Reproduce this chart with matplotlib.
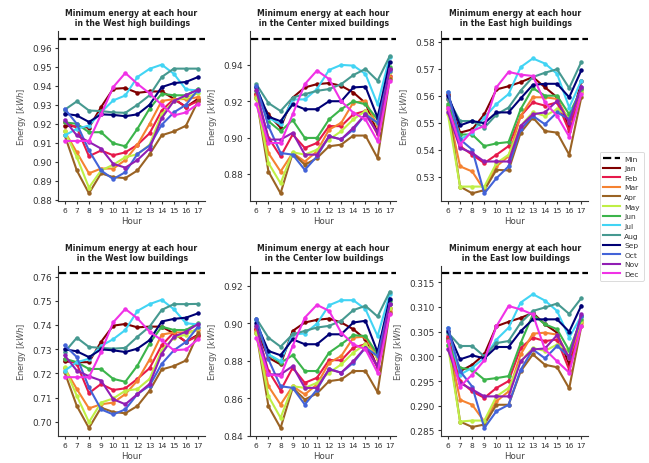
import matplotlib
matplotlib.use("Agg")
import matplotlib.pyplot as plt
from matplotlib.lines import Line2D
from matplotlib.ticker import MultipleLocator, FormatStrFormatter

hours = list(range(6, 18))
months = ["Jan", "Feb", "Mar", "Apr", "May", "Jun",
          "Jul", "Aug", "Sep", "Oct", "Nov", "Dec"]
colors = ["#800000", "#e6194b", "#f58231", "#9a6324", "#bfef45", "#3cb44b",
          "#42d4f4", "#469990", "#000075", "#4363d8", "#911eb4", "#f032e6"]

titles = ["Minimum energy at each hour\n in the West high buildings",
          "Minimum energy at each hour\n in the Center mixed buildings",
          "Minimum energy at each hour\n in the East high buildings",
          "Minimum energy at each hour\n in the West low buildings",
          "Minimum energy at each hour\n in the Center low buildings",
          "Minimum energy at each hour\n in the East low buildings"]

# valor minimo de referencia (linea punteada)
min_values = [0.9647, 0.9544, 0.5811, 0.7613, 0.9266, 0.3168]
tick_steps = [0.01, 0.02, 0.01, 0.01, 0.02, 0.005]
tick_formats = ["%.2f", "%.2f", "%.2f", "%.2f", "%.2f", "%.3f"]

# una fila por mes (Jan..Dec), una columna por hora (6..17)
west_high = [
    [0.9190, 0.9186, 0.9180, 0.9288, 0.9384, 0.9388, 0.9363, 0.9370, 0.9370, 0.9332, 0.9288, 0.9332],
    [0.9210, 0.9180, 0.9030, 0.9060, 0.9035, 0.9050, 0.9090, 0.9150, 0.9270, 0.9330, 0.9290, 0.9320],
    [0.9160, 0.9050, 0.8940, 0.8965, 0.8965, 0.9010, 0.9090, 0.9200, 0.9320, 0.9330, 0.9330, 0.9340],
    [0.9140, 0.8955, 0.8835, 0.8940, 0.8920, 0.8915, 0.8955, 0.9040, 0.9140, 0.9160, 0.9190, 0.9320],
    [0.9160, 0.9025, 0.8865, 0.8955, 0.8985, 0.9025, 0.9040, 0.9090, 0.9250, 0.9320, 0.9340, 0.9360],
    [0.9208, 0.9200, 0.9156, 0.9156, 0.9098, 0.9082, 0.9174, 0.9280, 0.9358, 0.9350, 0.9350, 0.9384],
    [0.9139, 0.9174, 0.9191, 0.9261, 0.9323, 0.9349, 0.9446, 0.9489, 0.9511, 0.9463, 0.9381, 0.9375],
    [0.9274, 0.9318, 0.9270, 0.9267, 0.9260, 0.9258, 0.9300, 0.9350, 0.9446, 0.9490, 0.9490, 0.9490],
    [0.9253, 0.9244, 0.9210, 0.9250, 0.9247, 0.9240, 0.9250, 0.9300, 0.9393, 0.9414, 0.9420, 0.9446],
    [0.9279, 0.9200, 0.9060, 0.8955, 0.8910, 0.8946, 0.9042, 0.9086, 0.9195, 0.9260, 0.9300, 0.9380],
    [0.9220, 0.9139, 0.9105, 0.9070, 0.8990, 0.8970, 0.9010, 0.9070, 0.9230, 0.9320, 0.9350, 0.9380],
    [0.9110, 0.9110, 0.9110, 0.9250, 0.9393, 0.9467, 0.9410, 0.9360, 0.9300, 0.9244, 0.9260, 0.9305],
]

center_mixed = [
    [0.9240, 0.9128, 0.9054, 0.9220, 0.9276, 0.9294, 0.9300, 0.9285, 0.9248, 0.9190, 0.9026, 0.9378],
    [0.9240, 0.9000, 0.8896, 0.9017, 0.8943, 0.8970, 0.9063, 0.9063, 0.9128, 0.9146, 0.9017, 0.9340],
    [0.9230, 0.8915, 0.8813, 0.8915, 0.8868, 0.8924, 0.9044, 0.9081, 0.9193, 0.9200, 0.9063, 0.9331],
    [0.9220, 0.8813, 0.8693, 0.8915, 0.8850, 0.8887, 0.8952, 0.8961, 0.9011, 0.9011, 0.8887, 0.9322],
    [0.9220, 0.8860, 0.8748, 0.8919, 0.8906, 0.8933, 0.8989, 0.9035, 0.9100, 0.9146, 0.9072, 0.9360],
    [0.9257, 0.9090, 0.9035, 0.9096, 0.8998, 0.8998, 0.9100, 0.9156, 0.9200, 0.9183, 0.9100, 0.9387],
    [0.9280, 0.9110, 0.9072, 0.9210, 0.9210, 0.9267, 0.9372, 0.9400, 0.9396, 0.9350, 0.9183, 0.9443],
    [0.9294, 0.9190, 0.9146, 0.9220, 0.9239, 0.9257, 0.9267, 0.9294, 0.9344, 0.9378, 0.9313, 0.9448],
    [0.9276, 0.9115, 0.9090, 0.9183, 0.9156, 0.9156, 0.9200, 0.9200, 0.9276, 0.9280, 0.9110, 0.9415],
    [0.9285, 0.9063, 0.8915, 0.8906, 0.8822, 0.8896, 0.9007, 0.8990, 0.9044, 0.9128, 0.9081, 0.9369],
    [0.9260, 0.8989, 0.8989, 0.9026, 0.8906, 0.8906, 0.9007, 0.8990, 0.9054, 0.9128, 0.9026, 0.9378],
    [0.9183, 0.8970, 0.8970, 0.9128, 0.9294, 0.9369, 0.9322, 0.9200, 0.9137, 0.9100, 0.8980, 0.9313],
]

east_high = [
    [0.5606, 0.5463, 0.5475, 0.5531, 0.5623, 0.5635, 0.5650, 0.5669, 0.5631, 0.5594, 0.5481, 0.5653],
    [0.5588, 0.5413, 0.5381, 0.5350, 0.5381, 0.5413, 0.5525, 0.5575, 0.5563, 0.5575, 0.5469, 0.5625],
    [0.5550, 0.5338, 0.5319, 0.5250, 0.5338, 0.5375, 0.5525, 0.5594, 0.5594, 0.5588, 0.5506, 0.5615],
    [0.5563, 0.5263, 0.5238, 0.5250, 0.5325, 0.5323, 0.5463, 0.5519, 0.5469, 0.5463, 0.5381, 0.5594],
    [0.5531, 0.5263, 0.5263, 0.5263, 0.5350, 0.5381, 0.5488, 0.5538, 0.5525, 0.5550, 0.5525, 0.5619],
    [0.5569, 0.5456, 0.5456, 0.5413, 0.5423, 0.5428, 0.5550, 0.5628, 0.5600, 0.5600, 0.5531, 0.5625],
    [0.5613, 0.5438, 0.5463, 0.5519, 0.5569, 0.5606, 0.5706, 0.5738, 0.5719, 0.5681, 0.5556, 0.5656],
    [0.5588, 0.5506, 0.5506, 0.5481, 0.5530, 0.5556, 0.5619, 0.5669, 0.5685, 0.5698, 0.5628, 0.5725],
    [0.5600, 0.5490, 0.5506, 0.5498, 0.5538, 0.5538, 0.5590, 0.5640, 0.5644, 0.5644, 0.5594, 0.5694],
    [0.5613, 0.5438, 0.5400, 0.5238, 0.5294, 0.5338, 0.5475, 0.5525, 0.5494, 0.5538, 0.5513, 0.5631],
    [0.5538, 0.5406, 0.5388, 0.5356, 0.5356, 0.5356, 0.5488, 0.5531, 0.5538, 0.5581, 0.5500, 0.5631],
    [0.5556, 0.5419, 0.5469, 0.5488, 0.5631, 0.5688, 0.5678, 0.5673, 0.5575, 0.5525, 0.5448, 0.5606],
]

west_low = [
    [0.7249, 0.7246, 0.7246, 0.7330, 0.7397, 0.7404, 0.7390, 0.7393, 0.7393, 0.7365, 0.7330, 0.7360],
    [0.7260, 0.7239, 0.7118, 0.7156, 0.7131, 0.7138, 0.7177, 0.7221, 0.7316, 0.7369, 0.7330, 0.7355],
    [0.7221, 0.7135, 0.7055, 0.7072, 0.7079, 0.7114, 0.7170, 0.7257, 0.7360, 0.7369, 0.7369, 0.7379],
    [0.7204, 0.7065, 0.6974, 0.7058, 0.7040, 0.7035, 0.7065, 0.7128, 0.7216, 0.7230, 0.7253, 0.7365],
    [0.7225, 0.7107, 0.6998, 0.7079, 0.7096, 0.7128, 0.7135, 0.7177, 0.7295, 0.7347, 0.7360, 0.7386],
    [0.7260, 0.7246, 0.7218, 0.7218, 0.7177, 0.7165, 0.7232, 0.7323, 0.7393, 0.7379, 0.7379, 0.7407],
    [0.7211, 0.7246, 0.7260, 0.7313, 0.7341, 0.7379, 0.7458, 0.7486, 0.7504, 0.7465, 0.7407, 0.7402],
    [0.7288, 0.7347, 0.7309, 0.7305, 0.7302, 0.7305, 0.7351, 0.7393, 0.7462, 0.7486, 0.7486, 0.7487],
    [0.7299, 0.7291, 0.7267, 0.7299, 0.7295, 0.7288, 0.7302, 0.7337, 0.7414, 0.7425, 0.7430, 0.7448],
    [0.7316, 0.7267, 0.7142, 0.7051, 0.7030, 0.7051, 0.7114, 0.7149, 0.7239, 0.7295, 0.7330, 0.7393],
    [0.7274, 0.7211, 0.7188, 0.7170, 0.7093, 0.7072, 0.7114, 0.7156, 0.7281, 0.7351, 0.7372, 0.7404],
    [0.7184, 0.7184, 0.7184, 0.7288, 0.7411, 0.7466, 0.7427, 0.7372, 0.7337, 0.7295, 0.7299, 0.7341],
]

center_low = [
    [0.8968, 0.8816, 0.8780, 0.8959, 0.9004, 0.9018, 0.9025, 0.9004, 0.8968, 0.8914, 0.8763, 0.9102],
    [0.8968, 0.8745, 0.8641, 0.8763, 0.8682, 0.8709, 0.8804, 0.8802, 0.8870, 0.8888, 0.8763, 0.9079],
    [0.8959, 0.8664, 0.8566, 0.8664, 0.8620, 0.8673, 0.8789, 0.8825, 0.8923, 0.8929, 0.8807, 0.9066],
    [0.8950, 0.8557, 0.8441, 0.8655, 0.8593, 0.8625, 0.8691, 0.8700, 0.8745, 0.8745, 0.8632, 0.9057],
    [0.8950, 0.8611, 0.8495, 0.8664, 0.8655, 0.8682, 0.8736, 0.8780, 0.8843, 0.8888, 0.8816, 0.9084],
    [0.8986, 0.8834, 0.8789, 0.8829, 0.8745, 0.8745, 0.8843, 0.8888, 0.8936, 0.8932, 0.8834, 0.9120],
    [0.9015, 0.8834, 0.8798, 0.8941, 0.8945, 0.8998, 0.9096, 0.9123, 0.9123, 0.9075, 0.8932, 0.9155],
    [0.9025, 0.8923, 0.8875, 0.8941, 0.8959, 0.8977, 0.8986, 0.9013, 0.9070, 0.9093, 0.9036, 0.9168],
    [0.9000, 0.8852, 0.8829, 0.8914, 0.8888, 0.8888, 0.8941, 0.8941, 0.9004, 0.9013, 0.8846, 0.9132],
    [0.9025, 0.8807, 0.8664, 0.8655, 0.8566, 0.8646, 0.8757, 0.8736, 0.8789, 0.8870, 0.8825, 0.9102],
    [0.8986, 0.8727, 0.8727, 0.8771, 0.8655, 0.8655, 0.8754, 0.8736, 0.8798, 0.8870, 0.8771, 0.9102],
    [0.8923, 0.8727, 0.8718, 0.8879, 0.9030, 0.9098, 0.9066, 0.8950, 0.8888, 0.8861, 0.8736, 0.9048],
]

east_low = [
    [0.3038, 0.2970, 0.2983, 0.3004, 0.3061, 0.3070, 0.3078, 0.3088, 0.3065, 0.3048, 0.2983, 0.3082],
    [0.3041, 0.2950, 0.2929, 0.2916, 0.2936, 0.2950, 0.3017, 0.3038, 0.3031, 0.3034, 0.2973, 0.3071],
    [0.3031, 0.2912, 0.2902, 0.2868, 0.2909, 0.2929, 0.3004, 0.3046, 0.3048, 0.3044, 0.2997, 0.3068],
    [0.3034, 0.2868, 0.2857, 0.2862, 0.2902, 0.2902, 0.2970, 0.3004, 0.2983, 0.2978, 0.2935, 0.3061],
    [0.3021, 0.2868, 0.2870, 0.2870, 0.2919, 0.2936, 0.2990, 0.3017, 0.3011, 0.3024, 0.3011, 0.3071],
    [0.3024, 0.2977, 0.2973, 0.2953, 0.2956, 0.2960, 0.3027, 0.3085, 0.3065, 0.3055, 0.3012, 0.3075],
    [0.3058, 0.2963, 0.2977, 0.2997, 0.3034, 0.3058, 0.3109, 0.3126, 0.3113, 0.3092, 0.3038, 0.3082],
    [0.3048, 0.3021, 0.3021, 0.3000, 0.3027, 0.3031, 0.3068, 0.3092, 0.3099, 0.3107, 0.3086, 0.3118],
    [0.3051, 0.2994, 0.3002, 0.2996, 0.3019, 0.3019, 0.3051, 0.3075, 0.3075, 0.3075, 0.3050, 0.3103],
    [0.3058, 0.2970, 0.2939, 0.2855, 0.2889, 0.2902, 0.2973, 0.3014, 0.2996, 0.3021, 0.3000, 0.3082],
    [0.3014, 0.2946, 0.2933, 0.2919, 0.2919, 0.2919, 0.2990, 0.3014, 0.3016, 0.3043, 0.2997, 0.3085],
    [0.3031, 0.2939, 0.2963, 0.2992, 0.3061, 0.3102, 0.3095, 0.3085, 0.3014, 0.2990, 0.2967, 0.3061],
]

panels = [west_high, center_mixed, east_high, west_low, center_low, east_low]

fig = plt.figure(figsize=(6.49, 4.64), dpi=100)

for i in range(6):
    ax = plt.subplot(2, 3, i + 1)
    # linea del minimo
    ax.axhline(min_values[i], color="black", linestyle="--", linewidth=1.6)
    for m in range(12):
        ax.plot(hours, panels[i][m], color=colors[m], linewidth=1.5,
                marker="o", markersize=2.2)

    ax.set_title(titles[i], fontsize=5.6, fontweight="bold", color="#222222", pad=4)
    ax.set_xlabel("Hour", fontsize=6.2, color="#444444", labelpad=2)
    ax.set_ylabel("Energy [$kWh$]", fontsize=6, color="#555555", labelpad=3)
    ax.set_xticks(hours)
    ax.yaxis.set_major_locator(MultipleLocator(tick_steps[i]))
    ax.yaxis.set_major_formatter(FormatStrFormatter(tick_formats[i]))
    ax.tick_params(axis="x", labelsize=5.4, length=2.5, pad=2, colors="#333333")
    ax.tick_params(axis="y", labelsize=6.4, length=2.5, pad=2, colors="#333333")
    ax.spines["top"].set_visible(False)
    ax.spines["right"].set_visible(False)
    for s in ["left", "bottom"]:
        ax.spines[s].set_color("#333333")
        ax.spines[s].set_linewidth(0.8)

plt.subplots_adjust(left=0.0894, right=0.906, top=0.931, bottom=0.0588,
                    wspace=0.306, hspace=0.38)

# leyenda solo con lineas
handles = [Line2D([0], [0], color="black", linestyle="--", linewidth=1.6)]
for m in range(12):
    handles.append(Line2D([0], [0], color=colors[m], linewidth=1.5))
labels = ["Min"] + months
leg = fig.legend(handles, labels, loc="center left", bbox_to_anchor=(0.918, 0.532),
                 fontsize=5.4, frameon=True, handlelength=2.2, labelspacing=0.45,
                 borderpad=0.5, handletextpad=0.6)
leg.get_frame().set_edgecolor("#cccccc")
leg.get_frame().set_linewidth(0.6)
for t in leg.get_texts():
    t.set_color("#333333")

plt.savefig("out.png", dpi=100)
